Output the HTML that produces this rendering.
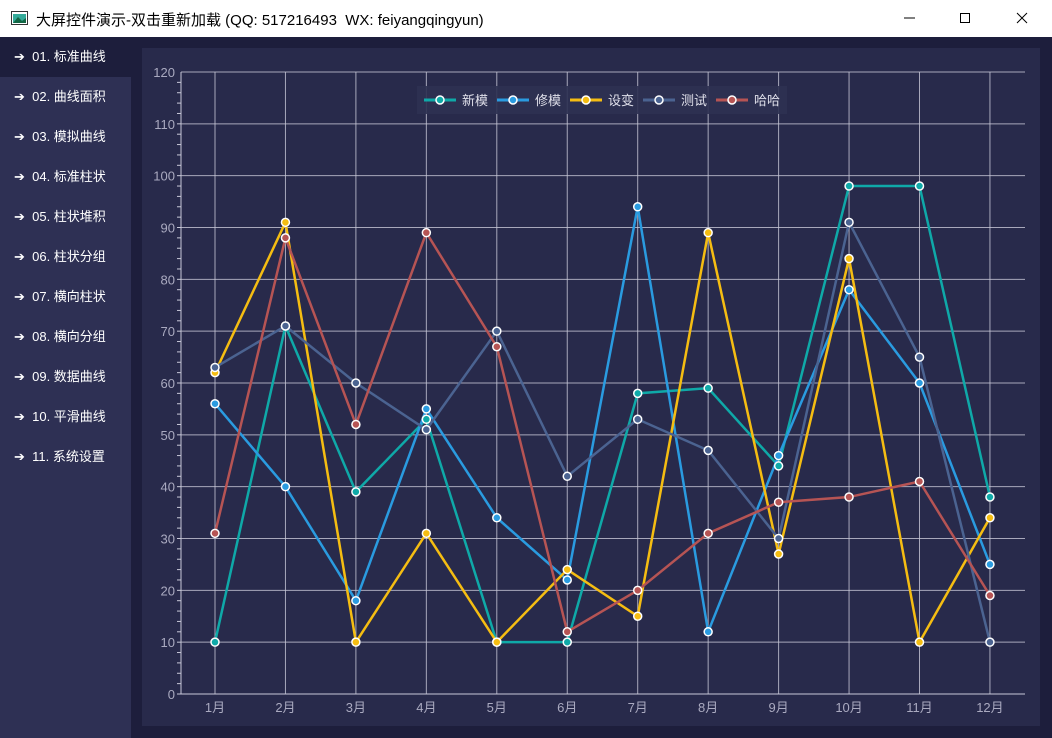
<!DOCTYPE html><html><head><meta charset="utf-8"><style>
body{margin:0;width:1052px;height:738px;overflow:hidden;background:#1d1e3c;font-family:"Liberation Sans","Noto Sans CJK SC",sans-serif;position:relative}
.title{position:absolute;left:0;top:0;width:1052px;height:37px;background:#fff;font-size:15px;color:#000}
.title span{position:absolute;left:36px;top:9px}
.side{position:absolute;left:0;top:37px;width:131px;height:701px;background:#2e3054}
.item{height:40px;line-height:40px;color:#fff;font-size:13px;padding-left:14px}
.item.sel{background:#1d1e3c}
.panel{position:absolute;left:142px;top:48px;width:898px;height:678px;background:#282a4b}
</style></head><body>
<div class="title"><svg style="position:absolute;left:11px;top:10px" width="17" height="15"><rect x="0.5" y="1.5" width="16" height="13" fill="#fff" stroke="#333"/><rect x="2" y="4" width="13" height="9" fill="#3a9"/><path d="M2 13 L7 7 L11 11 L15 8 L15 13Z" fill="#164"/></svg><span>大屏控件演示-双击重新加载 (QQ: 517216493&nbsp; WX: feiyangqingyun)</span>
<svg style="position:absolute;left:900px;top:10px" width="140" height="16"><line x1="4" x2="15" y1="8" y2="8" stroke="#000"/><rect x="60.5" y="3.5" width="9" height="9" fill="none" stroke="#000"/><path d="M117 3 L127 13 M127 3 L117 13" stroke="#000"/></svg></div>
<div class="side">
<div class="item sel">➔&nbsp; 01. 标准曲线</div><div class="item">➔&nbsp; 02. 曲线面积</div><div class="item">➔&nbsp; 03. 模拟曲线</div><div class="item">➔&nbsp; 04. 标准柱状</div><div class="item">➔&nbsp; 05. 柱状堆积</div><div class="item">➔&nbsp; 06. 柱状分组</div><div class="item">➔&nbsp; 07. 横向柱状</div><div class="item">➔&nbsp; 08. 横向分组</div><div class="item">➔&nbsp; 09. 数据曲线</div><div class="item">➔&nbsp; 10. 平滑曲线</div><div class="item">➔&nbsp; 11. 系统设置</div>
</div>
<div class="panel"></div>
<svg id="c" style="position:absolute;left:0;top:0" width="1052" height="738"></svg>
<script>
const s=document.getElementById('c');let h='';
const X0=215,DX=70.45,Y0=694,K=622/120,L=181,R=1025;
const y=v=>Y0-v*K;
for(let v=0;v<=120;v+=10){h+=`<line x1="${L}" x2="${R}" y1="${y(v)}" y2="${y(v)}" stroke="#c8c8d8" stroke-width="1" opacity="${v?0.8:1}"/>`;h+=`<text x="${L-6}" y="${y(v)+5}" fill="#aaaac0" font-size="13" text-anchor="end">${v}</text>`;}
for(let v=0;v<120;v+=2){h+=`<line x1="${L-4}" x2="${L}" y1="${y(v)}" y2="${y(v)}" stroke="#c8c8d8"/>`;}
h+=`<line x1="${L}" x2="${L}" y1="72" y2="694" stroke="#c8c8d8"/>`;
for(let i=0;i<12;i++){const x=X0+i*DX;h+=`<line x1="${x}" x2="${x}" y1="72" y2="694" stroke="#c8c8d8" opacity="0.8"/><text x="${x}" y="712" fill="#aaaac0" font-size="13" text-anchor="middle">${i+1}月</text>`;}
const S=[["新模","#0fa9a8",[10,71,39,53,10,10,58,59,44,98,98,38]],["修模","#2a9be0",[56,40,18,55,34,22,94,12,46,78,60,25]],["设变","#f5bd12",[62,91,10,31,10,24,15,89,27,84,10,34]],["测试","#4b6391",[63,71,60,51,70,42,53,47,30,91,65,10]],["哈哈","#b65454",[31,88,52,89,67,12,20,31,37,38,41,19]]];
S.forEach(([n,c,d])=>{h+=`<polyline fill="none" stroke="${c}" stroke-width="2.5" points="${d.map((v,i)=>(X0+i*DX)+','+y(v)).join(' ')}"/>`;});
S.forEach(([n,c,d])=>{d.forEach((v,i)=>{h+=`<circle cx="${X0+i*DX}" cy="${y(v)}" r="4" fill="${c}" stroke="#fff" stroke-width="1.5"/>`;});});
h+=`<rect x="417" y="86" width="370" height="28" fill="#2e3152" opacity="0.9"/>`;
const lx=[424,497,570,643,716];
S.forEach(([n,c],i)=>{const x=lx[i];h+=`<line x1="${x}" x2="${x+32}" y1="100" y2="100" stroke="${c}" stroke-width="3"/><circle cx="${x+16}" cy="100" r="4" fill="${c}" stroke="#fff" stroke-width="1.5"/><text x="${x+38}" y="105" fill="#e0e0ea" font-size="13">${n}</text>`;});
s.innerHTML=h;
</script>
</body></html>
